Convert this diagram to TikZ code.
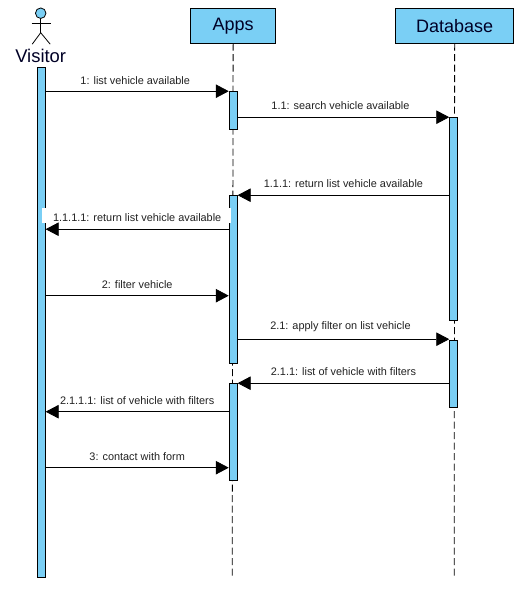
\documentclass[tikz,border=0pt]{standalone}
\usepackage{fontspec}
\setmainfont{Liberation Sans}
\usetikzlibrary{arrows.meta}
\definecolor{umlblue}{HTML}{7ACFF5}
\definecolor{msgtext}{HTML}{222222}
\tikzset{
  head/.style={draw=black,fill=umlblue,line width=0.9pt,minimum height=34.5pt,inner sep=0pt,font=\fontsize{18}{21}\selectfont,text=black!85!blue,anchor=north west},
  bar/.style={draw=black,fill=umlblue,line width=0.9pt,minimum width=8pt,inner sep=0pt,anchor=north},
  life/.style={draw=black,line width=0.8pt,dash pattern=on 7pt off 3.5pt},
  msg/.style={draw=black,line width=0.8pt,-{Triangle[length=13pt,width=13.5pt]}},
  msgl/.style={font=\fontsize{10.9}{12}\selectfont,text=msgtext,inner sep=1pt},
  actor/.style={draw=black,line width=0.8pt}
}
\begin{document}
\begin{tikzpicture}[x=1pt,y=-1pt]
\useasboundingbox (0,0) rectangle (532,595);
\fill[white] (0,0) rectangle (532,595);
\begin{scope}[xshift=-0.3pt,yshift=0.3pt]
% heads
\node[head,minimum width=85pt] (apps) at (190.5,8.5) {Apps};
\node[head,minimum width=118pt] (db) at (395.5,8.5) {Database};
% lifelines
\coordinate (appsend) at (232.5,578);
\coordinate (dbend) at (454.5,578);
\draw[life] (apps.south) -- (appsend);
\draw[life] (db.south) -- (dbend);
% actor
\node[circle,draw=black,fill=umlblue,line width=0.8pt,minimum size=10.5pt,inner sep=0pt] (ahead) at (41,13.5) {};
\coordinate (ahip) at (41,33);
\coordinate (aarml) at (32,24);
\coordinate (aarmr) at (51,24);
\coordinate (alegl) at (32.5,44.5);
\coordinate (alegr) at (50.5,44.5);
\draw[actor] (ahead.south) -- (ahip);
\draw[actor] (aarml) -- (aarmr);
\draw[actor] (alegl) -- (ahip) -- (alegr);
\node[font=\fontsize{18.4}{21}\selectfont,text=black!85!blue,inner sep=0pt] (visitor) at (41,56) {Visitor};
% bars
\node[bar,minimum height=510pt] (v) at (41.5,67.5) {};
\node[bar,minimum height=37.5pt] (a1) at (233.5,91.5) {};
\node[bar,minimum height=167.5pt] (a2) at (233.5,195.5) {};
\node[bar,minimum height=97pt] (a3) at (233.5,383.5) {};
\node[bar,minimum height=202.5pt] (d1) at (454,117.5) {};
\node[bar,minimum height=67pt] (d2) at (454,340) {};
% messages
\draw[msg] (v.east |- 0,91.5) -- node[msgl,above=5pt,xshift=-2pt] (m1) {1: list vehicle available} (a1.west |- 0,91.5);
\draw[msg] (a1.east |- 0,117.5) -- node[msgl,above=6pt,xshift=-3pt] (m2) {1.1: search vehicle available} (d1.west |- 0,117.5);
\draw[msg] (d1.west |- 0,195.5) -- node[msgl,above=6pt] (m3) {1.1.1: return list vehicle available} (a2.east |- 0,195.5);
\fill[white] (42.3,208.5) rectangle (231.3,223);
\fill[umlblue] (37.9,208.5) rectangle (41.8,223);
\draw[msg] (a2.west |- 0,229.5) -- node[msgl,above=6pt] (m4) {1.1.1.1: return list vehicle available} (v.east |- 0,229.5);
\draw[msg] (v.east |- 0,296) -- node[msgl,above=6pt] (m5) {2: filter vehicle} (a2.west |- 0,296);
\draw[msg] (a2.east |- 0,339.5) -- node[msgl,above=6pt,xshift=-3pt] (m6) {2.1: apply filter on list vehicle} (d2.west |- 0,339.5);
\draw[msg] (d2.west |- 0,383.5) -- node[msgl,above=6pt] (m7) {2.1.1: list of vehicle with filters} (a3.east |- 0,383.5);
\draw[msg] (a3.west |- 0,412) -- node[msgl,above=6pt] (m8) {2.1.1.1: list of vehicle with filters} (v.east |- 0,412);
\draw[msg] (v.east |- 0,468) -- node[msgl,above=6pt] (m9) {3: contact with form} (a3.west |- 0,468);
\end{scope}
\end{tikzpicture}
\end{document}
